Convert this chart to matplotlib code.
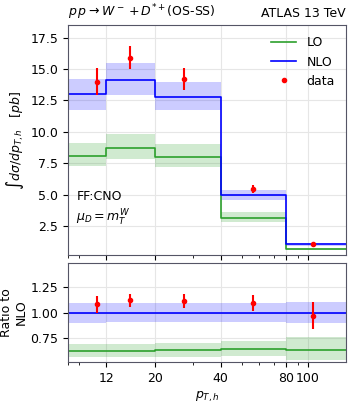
import numpy as np
import matplotlib
matplotlib.use('Agg')
import matplotlib.pyplot as plt
from matplotlib.lines import Line2D

# bin edges in pT,h
edges = [8, 12, 20, 40, 80, 150]

nlo = [13.0, 14.15, 12.8, 4.95, 1.05]
nlo_lo = [11.7, 12.9, 11.7, 4.6, 0.92]
nlo_hi = [14.2, 15.5, 14.0, 5.4, 1.17]

lo = [8.1, 8.7, 8.0, 3.15, 0.65]
lo_lo = [7.3, 7.85, 7.2, 2.8, 0.56]
lo_hi = [9.1, 9.8, 9.0, 3.6, 0.78]

data_x = [10.9, 15.4, 27.3, 56, 106]
data_y = [14.0, 15.9, 14.2, 5.45, 1.05]
data_err = [1.05, 0.9, 0.85, 0.35, 0.1]

# ratio panel
r_data = [1.08, 1.12, 1.11, 1.09, 0.97]
r_data_err = [0.08, 0.065, 0.07, 0.08, 0.13]
r_nlo_lo = [0.90, 0.91, 0.91, 0.91, 0.90]
r_nlo_hi = [1.09, 1.09, 1.09, 1.09, 1.10]
r_lo = [0.62, 0.615, 0.625, 0.64, 0.63]
r_lo_lo = [0.56, 0.555, 0.56, 0.57, 0.53]
r_lo_hi = [0.69, 0.69, 0.70, 0.72, 0.76]

xticks = [12, 20, 40, 80, 100]


def step(v):
    return list(v) + [v[-1]]


fig = plt.figure(figsize=(3.54, 4.04), dpi=100)
ax = fig.add_axes([68/354, 1-255/404, 278/354, 230/404])
axr = fig.add_axes([68/354, 1-362/404, 278/354, 99/404])

blue = '#0000ff'
green = '#2ca02c'

for a in (ax, axr):
    a.set_xscale('log')
    a.set_xlim(8, 150)
    a.grid(True, which='major', color='#e6e6e6', lw=0.8)
    a.set_axisbelow(True)
    for s in a.spines.values():
        s.set_color('#555566')
    a.set_xticks(xticks)
    a.tick_params(labelsize=9)

# top panel
ax.fill_between(edges, step(lo_lo), step(lo_hi), step='post', color=green, alpha=0.22, lw=0)
ax.fill_between(edges, step(nlo_lo), step(nlo_hi), step='post', color=blue, alpha=0.2, lw=0)
ax.step(edges, step(lo), where='post', color=green, lw=1.2)
ax.step(edges, step(nlo), where='post', color=blue, lw=1.2)
ax.errorbar(data_x, data_y, yerr=data_err, fmt='o', color='red', ms=3, elinewidth=1.5)
ax.set_ylim(0.2, 18.5)
ax.set_yticks([2.5, 5.0, 7.5, 10.0, 12.5, 15.0, 17.5])
ax.set_xticklabels([])
ax.set_ylabel(r'$\int d\sigma/dp_{T,h}$   $[pb]$', fontsize=9)
ax.yaxis.set_label_coords(-0.15, 0.5)
ax.set_title(r'$p\,p \rightarrow W^- + D^{*+}$(OS-SS)', loc='left', fontsize=9)
ax.set_title('ATLAS 13 TeV', loc='right', fontsize=9)
ax.text(0.03, 0.2, 'FF:CNO\n' + r'$\mu_D = m_T^W$', transform=ax.transAxes, fontsize=9,
        va='center', linespacing=1.4)
handles = [Line2D([], [], color=green, lw=1.2),
           Line2D([], [], color=blue, lw=1.2),
           Line2D([], [], color='red', marker='o', ms=3, ls='none')]
ax.legend(handles, ['LO', 'NLO', 'data'], loc='upper right', frameon=False, fontsize=9)

# ratio panel
axr.fill_between(edges, step(r_lo_lo), step(r_lo_hi), step='post', color=green, alpha=0.22, lw=0)
axr.fill_between(edges, step(r_nlo_lo), step(r_nlo_hi), step='post', color=blue, alpha=0.2, lw=0)
axr.step(edges, step(r_lo), where='post', color=green, lw=1.2)
axr.axhline(1.0, color=blue, lw=1.2)
axr.errorbar(data_x, r_data, yerr=r_data_err, fmt='o', color='red', ms=3, elinewidth=1.5)
axr.set_ylim(0.51, 1.49)
axr.set_yticks([0.75, 1.0, 1.25])
axr.set_xticklabels([str(t) for t in xticks])
axr.set_ylabel('Ratio to\nNLO', fontsize=9)
axr.yaxis.set_label_coords(-0.145, 0.5)
axr.set_xlabel(r'$p_{T,h}$', fontsize=9)

fig.savefig('out.png', dpi=100)
